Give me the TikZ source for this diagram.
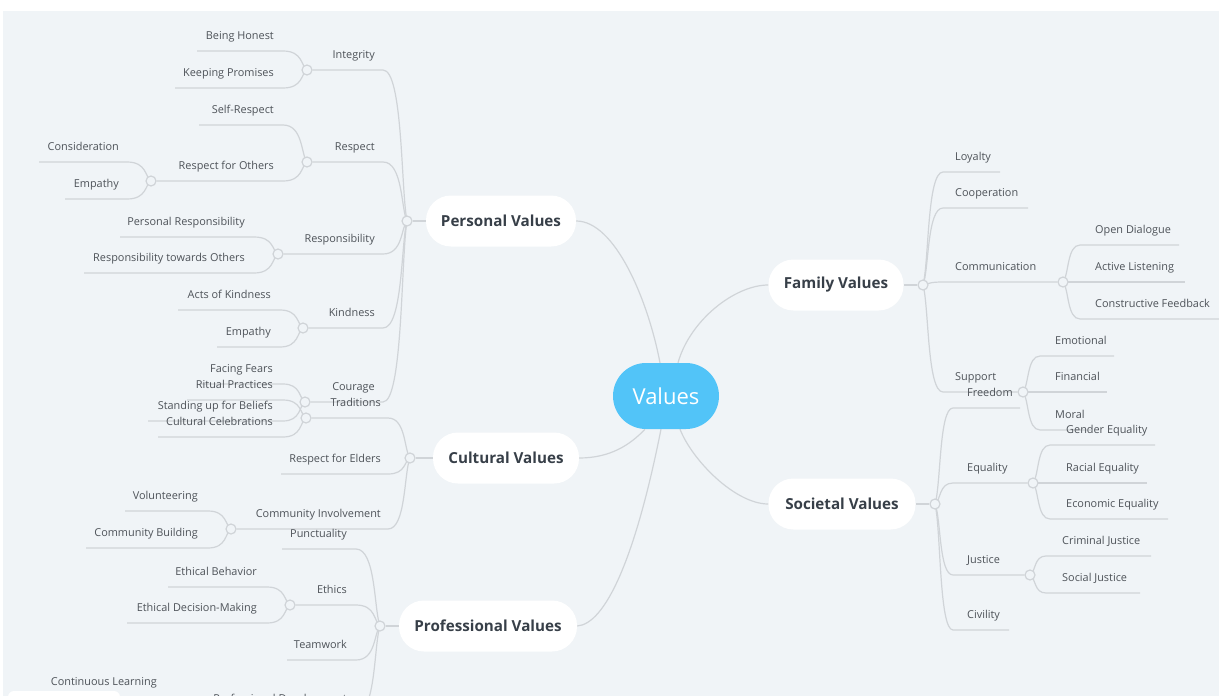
\documentclass[tikz,border=0pt]{standalone}
\usepackage{fontspec}
\setmainfont{Open Sans}
\usetikzlibrary{calc}
\definecolor{bgc}{RGB}{240,244,247}
\definecolor{linec}{RGB}{208,212,216}
\definecolor{labc}{RGB}{78,83,89}
\definecolor{boldc}{RGB}{55,63,72}
\definecolor{rootc}{RGB}{82,196,248}
\pgfdeclarelayer{panel}
\pgfdeclarelayer{lines}
\pgfsetlayers{panel,lines,main}
\tikzset{
  conn/.style={draw=linec, line width=1.2pt},
  lbl/.style={text=labc, font=\fontsize{10.9}{12}\selectfont, inner sep=0pt},
  mainbox/.style={fill=white, rounded corners=25pt, minimum height=51pt, text=boldc,
    font=\bfseries\fontsize{15.2}{18}\selectfont, inner sep=0pt},
  junc/.style={circle, draw=linec, fill=bgc, line width=1.2pt, minimum size=10pt, inner sep=0pt},
}
\newcommand\labL[4]{\node[lbl,anchor=base east] (#1) at (#3,#4-12) {#2};}
\newcommand\labR[4]{\node[lbl,anchor=base west] (#1) at (#3,#4-12) {#2};}
\newcommand\conL[4]{\draw[conn] let \p1=(#2,#3), \p2=(#4) in (#1) -- (\p1)
  .. controls (\x2-4pt,\y1) and (\x2-6pt,{\y2+0.2*(\y1-\y2)}) .. (\p2);}
\newcommand\conR[4]{\draw[conn] let \p1=(#1), \p2=(#2,#3) in (\p1)
  .. controls (\x1+6pt,{\y1+0.2*(\y2-\y1)}) and (\x1+4pt,\y2) .. (\p2) -- (#4);}
\begin{document}
\begin{tikzpicture}[x=1pt,y=-1pt]
\useasboundingbox (0,0) rectangle (1219,696);
\begin{pgfonlayer}{panel}
  \fill[white] (0,0) rectangle (1219,696);
  \fill[bgc] (3,11) rectangle (1230,710);
  \fill[white, rounded corners=6pt] (8,691) rectangle (120,720);
\end{pgfonlayer}

% central and main nodes
\node[fill=rootc, rounded corners=33pt, minimum width=106pt, minimum height=66pt, inner sep=0pt,
  text=white, font=\fontsize{22}{26}\selectfont] (root) at (666,396) {Values};
\node[mainbox, minimum width=150pt] (pv) at (501,221) {Personal Values};
\node[mainbox, minimum width=146pt] (cv) at (506,458) {Cultural Values};
\node[mainbox, minimum width=178pt] (prv) at (488,626) {Professional Values};
\node[mainbox, minimum width=135pt] (fv) at (836,285) {Family Values};
\node[mainbox, minimum width=147pt] (sv) at (842,504) {Societal Values};

% junctions
\node[junc] (jPV) at (407,221) {};
\node[junc] (jCV) at (410,458) {};
\node[junc] (jPrV) at (380,626) {};
\node[junc] (jFV) at (923,285) {};
\node[junc] (jSV) at (935,504) {};
\node[junc] (jInteg) at (307,70) {};
\node[junc] (jResp) at (307,162) {};
\node[junc] (jRfO) at (151,181) {};
\node[junc] (jRespons) at (278,254) {};
\node[junc] (jKind) at (303,328) {};
\node[junc] (jCour) at (305,402) {};
\node[junc] (jTrad) at (306,418) {};
\node[junc] (jComm) at (231,529) {};
\node[junc] (jEth) at (290,605) {};
\node[junc] (jPD) at (188,714) {};
\node[junc] (jCommun) at (1063,282) {};
\node[junc] (jSupp) at (1023,392) {};
\node[junc] (jEq) at (1033,483) {};
\node[junc] (jJust) at (1030,575) {};

% left labels
\labL{integ}{Integrity}{375}{70}
\labL{resp}{Respect}{375}{162}
\labL{respons}{Responsibility}{375}{254}
\labL{kind}{Kindness}{375}{328}
\labL{cour}{Courage}{375}{402}
\labL{honest}{Being Honest}{274}{51}
\labL{promise}{Keeping Promises}{274}{88}
\labL{selfr}{Self-Respect}{274}{125}
\labL{rfo}{Respect for Others}{274}{181}
\labL{consid}{Consideration}{119}{162}
\labL{emp1}{Empathy}{119}{199}
\labL{persr}{Personal Responsibility}{245}{237}
\labL{rto}{Responsibility towards Others}{245}{273}
\labL{acts}{Acts of Kindness}{271}{310}
\labL{emp2}{Empathy}{271}{347}
\labL{fears}{Facing Fears}{273}{384}
\labL{stand}{Standing up for Beliefs}{273}{421}
\labL{ritual}{Ritual Practices}{273}{400}
\labL{celeb}{Cultural Celebrations}{273}{437}
\labL{trad}{Traditions}{381}{418}
\labL{elders}{Respect for Elders}{381}{474}
\labL{comm}{Community Involvement}{381}{529}
\labL{volun}{Volunteering}{198}{511}
\labL{cbuild}{Community Building}{198}{548}
\labL{punct}{Punctuality}{347}{549}
\labL{ethics}{Ethics}{347}{605}
\labL{team}{Teamwork}{347}{660}
\labL{profdev}{Professional Development}{347}{714}
\labL{contl}{Continuous Learning}{157}{697}
\labL{ethb}{Ethical Behavior}{257}{587}
\labL{ethd}{Ethical Decision-Making}{257}{623}

% right labels
\labR{loyal}{Loyalty}{955}{172}
\labR{coop}{Cooperation}{955}{208}
\labR{commun}{Communication}{955}{282}
\labR{supp}{Support}{955}{392}
\labR{open}{Open Dialogue}{1095}{245}
\labR{active}{Active Listening}{1095}{282}
\labR{constr}{Constructive Feedback}{1095}{319}
\labR{emot}{Emotional}{1055}{356}
\labR{finan}{Financial}{1055}{392}
\labR{moral}{Moral}{1055}{430}
\labR{free}{Freedom}{967}{408}
\labR{equal}{Equality}{967}{483}
\labR{just}{Justice}{967}{575}
\labR{civil}{Civility}{967}{630}
\labR{gender}{Gender Equality}{1066}{445}
\labR{racial}{Racial Equality}{1066}{483}
\labR{econ}{Economic Equality}{1066}{519}
\labR{crim}{Criminal Justice}{1062}{556}
\labR{social}{Social Justice}{1062}{593}

\begin{pgfonlayer}{lines}
  % root to main
  \draw[conn] (pv.east) .. controls (615,221) and (648,300) .. ([xshift=-6pt]root.north);
  \draw[conn] (cv.east) .. controls (610,458) and (630,445) .. ([xshift=-21pt]root.south);
  \draw[conn] (prv.east) .. controls (605,624) and (635,560) .. ([xshift=-5pt]root.south);
  \draw[conn] (fv.west) .. controls (735,285) and (690,320) .. ([xshift=12pt]root.north);
  \draw[conn] (sv.west) .. controls (735,504) and (692,460) .. ([xshift=14pt]root.south);
  % trunks
  \draw[conn] (pv.west) -- (jPV);
  \draw[conn] (cv.west) -- (jCV);
  \draw[conn] (prv.west) -- (jPrV);
  \draw[conn] (fv.east) -- (jFV);
  \draw[conn] (sv.east) -- (jSV);
  % personal
  \conL{jInteg}{383}{70}{jPV}
  \conL{jResp}{383}{162}{jPV}
  \conL{jRespons}{383}{254}{jPV}
  \conL{jKind}{383}{328}{jPV}
  \conL{jCour}{383}{402}{jPV}
  \conL{197,51}{283}{51}{jInteg}
  \conL{175,88}{283}{88}{jInteg}
  \conL{199,125}{283}{125}{jResp}
  \conL{jRfO}{283}{181}{jResp}
  \conL{39,162}{127}{162}{jRfO}
  \conL{65,199}{127}{199}{jRfO}
  \conL{120,237}{254}{237}{jRespons}
  \conL{84,273}{254}{273}{jRespons}
  \conL{178,310}{280}{310}{jKind}
  \conL{217,347}{280}{347}{jKind}
  \conL{200,384}{283}{384}{jCour}
  \conL{148,421}{283}{421}{jCour}
  \conL{187,400}{283}{400}{jTrad}
  \conL{158,437}{283}{437}{jTrad}
  % cultural
  \conL{jTrad}{388}{418}{jCV}
  \conL{281,474}{388}{474}{jCV}
  \conL{jComm}{388}{529}{jCV}
  \conL{125,511}{208}{511}{jComm}
  \conL{86,548}{208}{548}{jComm}
  % professional
  \conL{282,549}{356}{549}{jPrV}
  \conL{jEth}{356}{605}{jPrV}
  \conL{287,660}{356}{660}{jPrV}
  \conL{jPD}{356}{714}{jPrV}
  \conL{168,587}{267}{587}{jEth}
  \conL{127,623}{267}{623}{jEth}
  \conL{43,697}{164}{697}{jPD}
  % family
  \conR{jFV}{943}{172}{1000,172}
  \conR{jFV}{943}{208}{1028,208}
  \conR{jFV}{943}{282}{jCommun}
  \conR{jFV}{943}{392}{jSupp}
  \conR{jCommun}{1080}{245}{1179,245}
  \conR{jCommun}{1080}{282}{1185,282}
  \conR{jCommun}{1080}{319}{1225,319}
  \conR{jSupp}{1040}{356}{1114,356}
  \conR{jSupp}{1040}{392}{1107,392}
  \conR{jSupp}{1040}{430}{1091,430}
  % societal
  \conR{jSV}{953}{408}{1020,408}
  \conR{jSV}{953}{483}{jEq}
  \conR{jSV}{953}{575}{jJust}
  \conR{jSV}{953}{630}{1009,630}
  \conR{jEq}{1050}{445}{1155,445}
  \conR{jEq}{1050}{483}{1147,483}
  \conR{jEq}{1050}{519}{1168,519}
  \conR{jJust}{1046}{556}{1151,556}
  \conR{jJust}{1046}{593}{1140,593}
\end{pgfonlayer}
\end{tikzpicture}
\end{document}
